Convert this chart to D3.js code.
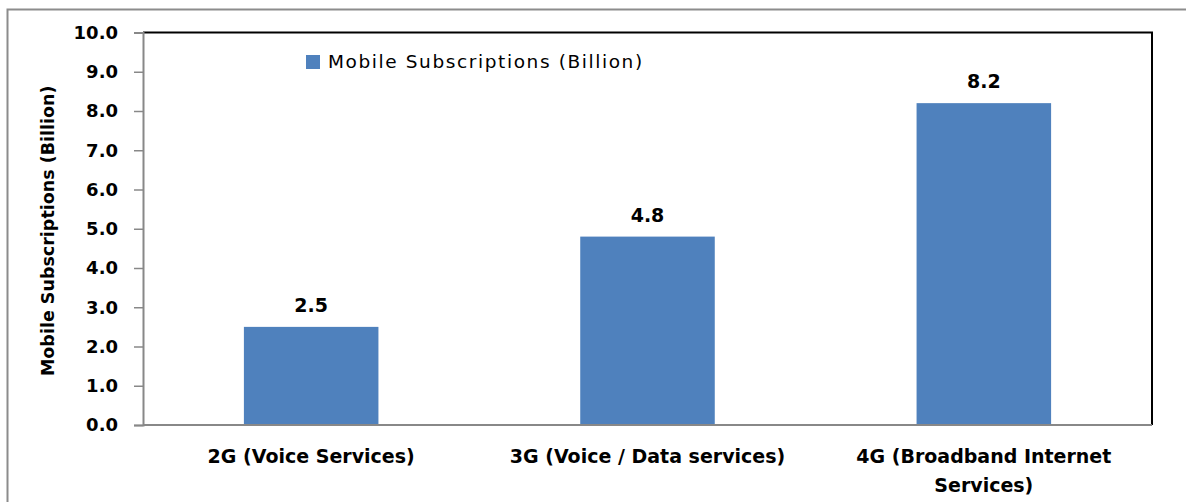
<!DOCTYPE html>
<html><head><meta charset="utf-8">
<script src="https://cdn.jsdelivr.net/npm/d3@7"></script>
<style>body{margin:0;background:#fff}svg{display:block}</style>
</head><body>
<svg id="c" width="1188" height="502"></svg>
<script>
const categories = ["2G (Voice Services)", "3G (Voice / Data services)", "4G (Broadband Internet Services)"];
const categoryLines = [["2G (Voice Services)"], ["3G (Voice / Data services)"], ["4G (Broadband Internet", "Services)"]];
const values = [2.5, 4.8, 8.2];
const yTicks = [0,1,2,3,4,5,6,7,8,9,10];
const seriesName = "Mobile Subscriptions (Billion)";
const yTitle = "Mobile Subscriptions (Billion)";

const svg = d3.select("#c");
const font = "'DejaVu Sans', Verdana, sans-serif";
const L = 143, R = 1152, T = 32.5, B = 425;

// outer frame
svg.append("path").attr("d", `M7.5,502 V9.5 H1186`).attr("fill","none").attr("stroke","#8c8c8c").attr("stroke-width",2);

const x = d3.scaleBand().domain(categories).range([L, R]).paddingInner(0.6).paddingOuter(0.3);
const y = d3.scaleLinear().domain([0, 10]).range([B, T]);

// plot frame top/right
svg.append("path").attr("d", `M${L},${T} H${R} V${B}`).attr("fill","none").attr("stroke","#000").attr("stroke-width",2);

// bars
svg.selectAll("rect.bar").data(values).join("rect")
  .attr("x", (d,i)=>x(categories[i])).attr("width", x.bandwidth())
  .attr("y", d=>y(d)).attr("height", d=>y(0)-y(d)).attr("fill","#4f81bd");

// y axis
const ya = svg.append("g").attr("transform",`translate(${L},0)`)
  .call(d3.axisLeft(y).tickValues(yTicks).tickSize(9).tickPadding(16).tickFormat(d3.format(".1f")));
ya.select(".domain").attr("stroke","#888").attr("stroke-width",2);
ya.selectAll(".tick line").attr("stroke","#888").attr("stroke-width",1.5);
ya.selectAll(".tick text").attr("font-family",font).attr("font-weight","bold").attr("font-size",18).attr("fill","#000");

// x axis baseline
svg.append("line").attr("x1",L).attr("x2",R).attr("y1",B).attr("y2",B).attr("stroke","#888").attr("stroke-width",2);

// x labels
categories.forEach((c,i)=>{
  const t = svg.append("text").attr("font-family",font).attr("font-weight","bold").attr("font-size",19)
    .attr("text-anchor","middle").attr("fill","#000");
  categoryLines[i].forEach((ln,j)=>{
    t.append("tspan").attr("x", x(c)+x.bandwidth()/2).attr("y", 463 + j*29).text(ln);
  });
});

// data labels
svg.selectAll("text.lbl").data(values).join("text")
  .attr("x",(d,i)=>x(categories[i])+x.bandwidth()/2).attr("y",d=>y(d)-15)
  .attr("text-anchor","middle").attr("font-family",font).attr("font-weight","bold").attr("font-size",19)
  .text(d=>d3.format(".1f")(d));

// y title
svg.append("text").attr("transform",`translate(54,${(T+B)/2+2}) rotate(-90)`)
  .attr("text-anchor","middle").attr("font-family",font).attr("font-weight","bold").attr("font-size",17.5)
  .text(yTitle);

// legend
svg.append("rect").attr("x",306).attr("y",55).attr("width",14).attr("height",14).attr("fill","#4f81bd");
svg.append("text").attr("x",328).attr("y",68).attr("font-family",font).attr("font-size",18.5)
  .attr("letter-spacing",1.6).attr("fill","#000").text(seriesName);
</script>
</body></html>
